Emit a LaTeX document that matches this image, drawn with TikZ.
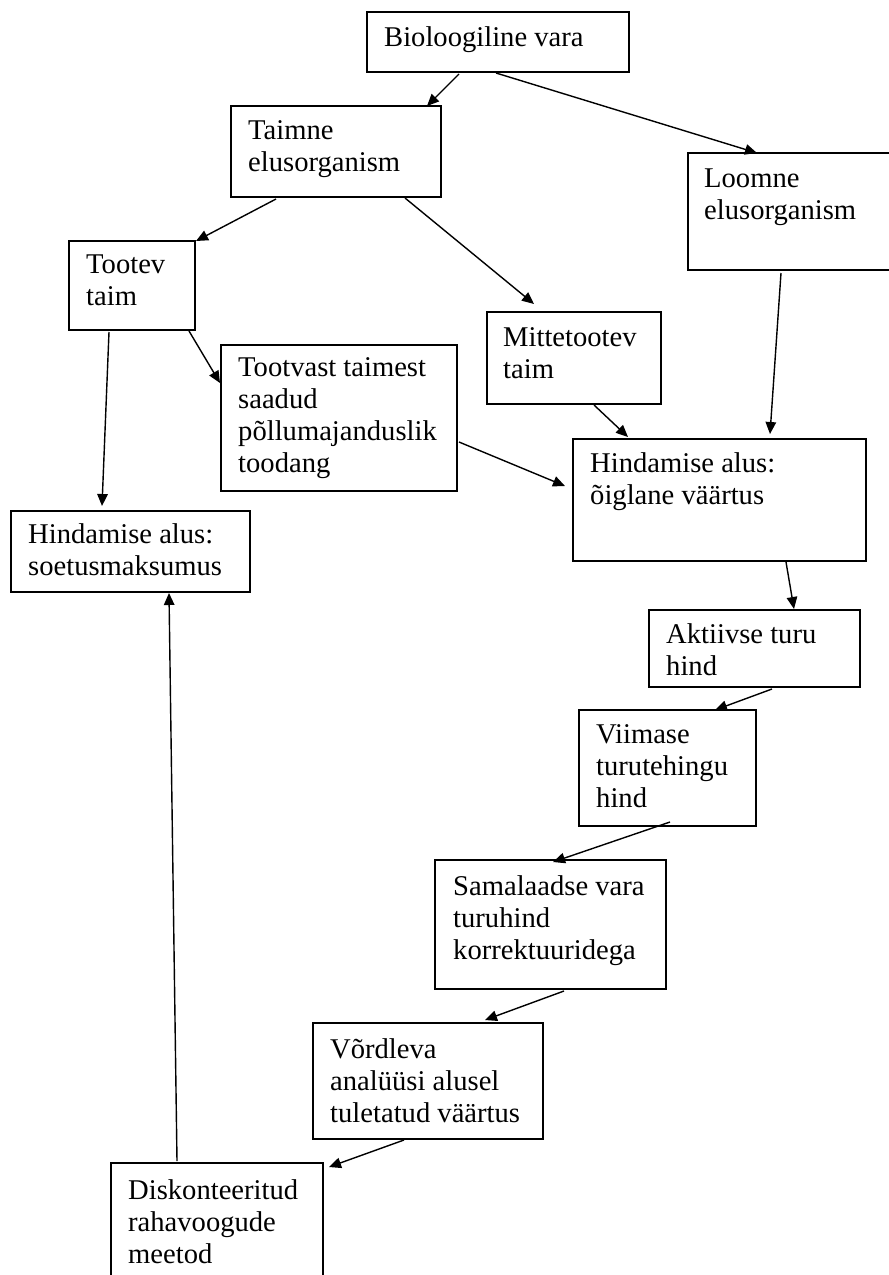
\documentclass[tikz,border=0pt]{standalone}
\usepackage{fontspec}
\setmainfont{Liberation Serif}
\usetikzlibrary{arrows.meta,calc}
\begin{document}
\begin{tikzpicture}[x=1pt,y=-1pt,
  box/.style={draw,line width=2pt,rectangle,inner sep=0pt,outer sep=0pt,anchor=north west},
  txt/.style={anchor=north west,inner sep=0pt,align=left,font=\fontsize{28.6}{32}\selectfont},
  conn/.style={line width=1.4pt,-{Triangle[length=12pt,width=10.5pt]}}]
\useasboundingbox (0,0) rectangle (889,1275);
\clip (0,0) rectangle (889,1275);
\fill[white] (0,0) rectangle (889,1275);

% boxes
\node[box,minimum width=262pt,minimum height=60pt]  (bio)      at (367,12)   {};
\node[box,minimum width=210pt,minimum height=91pt]  (taimne)   at (231,106)  {};
\node[box,minimum width=220pt,minimum height=117pt] (loomne)   at (688,153)  {};
\node[box,minimum width=126pt,minimum height=89pt]  (tootev)   at (69,241)   {};
\node[box,minimum width=174pt,minimum height=92pt]  (mitte)    at (487,312)  {};
\node[box,minimum width=236pt,minimum height=146pt] (tootvast) at (221,345)  {};
\node[box,minimum width=293pt,minimum height=122pt] (oiglane)  at (573,439)  {};
\node[box,minimum width=239pt,minimum height=81pt]  (soetus)   at (11,511)   {};
\node[box,minimum width=211pt,minimum height=77pt]  (aktiivse) at (649,610)  {};
\node[box,minimum width=177pt,minimum height=116pt] (viimase)  at (579,710)  {};
\node[box,minimum width=231pt,minimum height=129pt] (samal)    at (435,860)  {};
\node[box,minimum width=230pt,minimum height=116pt] (vordleva) at (313,1023) {};
\node[box,minimum width=212pt,minimum height=130pt] (disk)     at (111,1163) {};

% texts
\node[txt] (biot)      at ($(bio.north west)+(17,14.5)$)      {Bioloogiline vara};
\node[txt] (taimnet)   at ($(taimne.north west)+(17,14.5)$)   {Taimne\\elusorganism};
\node[txt] (loomnet)   at ($(loomne.north west)+(16,15.5)$)   {Loomne\\elusorganism};
\node[txt] (tootevt)   at ($(tootev.north west)+(17,13.5)$)   {Tootev\\taim};
\node[txt] (mittet)    at ($(mitte.north west)+(16,15)$)      {Mittetootev\\taim};
\node[txt] (tootvastt) at ($(tootvast.north west)+(17,12.5)$) {Tootvast taimest\\saadud\\põllumajanduslik\\toodang};
\node[txt] (oiglanet)  at ($(oiglane.north west)+(17,13.5)$)  {Hindamise alus:\\õiglane väärtus};
\node[txt] (soetust)   at ($(soetus.north west)+(17,12)$)     {Hindamise alus:\\soetusmaksumus};
\node[txt] (aktiivset) at ($(aktiivse.north west)+(17,13.5)$) {Aktiivse turu\\hind};
\node[txt] (viimaset)  at ($(viimase.north west)+(17,14.5)$)  {Viimase\\turutehingu\\hind};
\node[txt] (samalt)    at ($(samal.north west)+(18,15)$)      {Samalaadse vara\\turuhind\\korrektuuridega};
\node[txt] (vordlevat) at ($(vordleva.north west)+(17,15)$)   {Võrdleva\\analüüsi alusel\\tuletatud väärtus};
\node[txt] (diskt)     at ($(disk.north west)+(17,16)$)       {Diskonteeritud\\rahavoogude\\meetod};

% connectors
\draw[conn] ($(bio.south west)+(92,2)$)      -- ($(taimne.north west)+(196,0)$);
\draw[conn] ($(bio.south west)+(129,1)$)     -- ($(loomne.north west)+(69,0)$);
\draw[conn] ($(taimne.south west)+(45,2)$)   -- ($(tootev.north east)+(1,0)$);
\draw[conn] ($(taimne.south west)+(174,1)$)  -- ($(mitte.north west)+(47,-8)$);
\draw[conn] ($(loomne.south west)+(93,3)$)   -- ($(oiglane.north west)+(197,-5)$);
\draw[conn] ($(tootev.south west)+(40,2)$)   -- ($(soetus.north west)+(91,-5)$);
\draw[conn] ($(tootev.south west)+(120,1)$)  -- ($(tootvast.north west)+(-1,38)$);
\draw[conn] ($(mitte.south west)+(107,1)$)   -- ($(oiglane.north west)+(55,-2)$);
\draw[conn] ($(tootvast.north east)+(2,97)$) -- ($(oiglane.north west)+(-8,47)$);
\draw[conn] ($(oiglane.south west)+(213,1)$) -- ($(aktiivse.north west)+(145,-1)$);
\draw[conn] ($(aktiivse.south west)+(123,2)$) -- ($(viimase.north west)+(136,0)$);
\draw[conn] ($(viimase.south west)+(91,-4)$) -- ($(samal.north west)+(118,2)$);
\draw[conn] ($(samal.south west)+(129,2)$)   -- ($(vordleva.north west)+(172,-3)$);
\draw[conn] ($(vordleva.south west)+(91,1)$) -- ($(disk.north east)+(6,4)$);
\draw[conn] ($(disk.north west)+(66,-2)$)    -- ($(soetus.south west)+(158,1)$);
\end{tikzpicture}
\end{document}
